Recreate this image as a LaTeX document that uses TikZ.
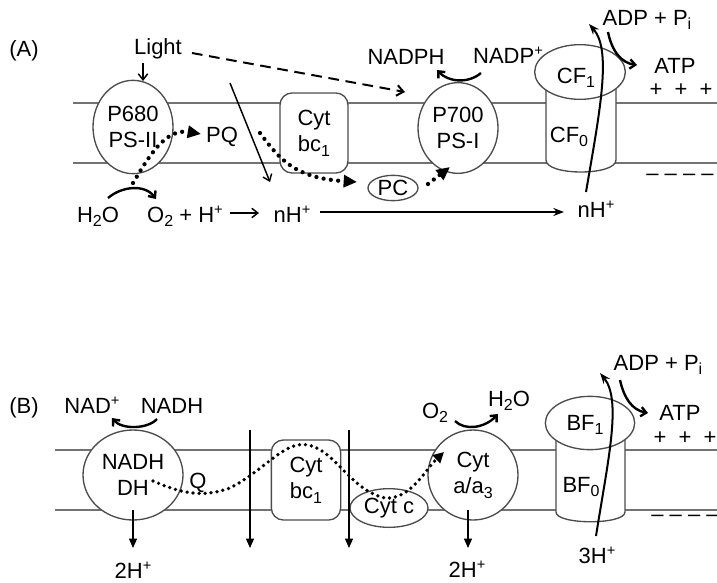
\documentclass[tikz,border=0pt]{standalone}
\usepackage{fontspec}
\setmainfont{Liberation Sans}
\usetikzlibrary{arrows.meta,shapes.geometric}
\newcommand\lo[1]{\raisebox{-3.6pt}{\fontsize{12}{12}\selectfont #1}}
\newcommand\hi[1]{\raisebox{5.5pt}{\fontsize{11}{11}\selectfont #1}}
\begin{document}
\begin{tikzpicture}[x=0.75pt,y=-0.75pt,
  txt/.style={inner sep=0pt, font=\fontsize{16.5}{19.5}\selectfont},
  lbl/.style={txt, anchor=base},
  memb/.style={draw=black!55, line width=1pt},
  shp/.style={draw=black!70, line width=1pt, fill=white, txt, align=center},
  circ/.style={shp, ellipse},
  boxn/.style={shp, rectangle, rounded corners=9pt},
  thinarrow/.style={line width=1.1pt, -{Straight Barb[length=4.5pt,width=7pt]}},
  dasharrow/.style={line width=1.5pt, dash pattern=on 8pt off 5pt, -{Straight Barb[length=5pt,width=8pt]}},
  longarrow/.style={line width=1.5pt, -{Stealth[length=8pt,width=6pt]}},
  boldarc/.style={line width=1.8pt, -{Straight Barb[length=4pt,width=7pt]}},
  uparrow/.style={line width=1.5pt, -{Stealth[length=8pt,width=6pt]}},
  downarrow/.style={line width=0.9pt, -{Triangle[length=7pt,width=6pt]}},
  dotsA/.style={line width=3.2pt, line cap=round, dash pattern=on 0pt off 5.5pt, -{Triangle[length=10pt,width=9pt]}},
  dotsB/.style={line width=2.8pt, line cap=round, dash pattern=on 0pt off 4.5pt, -{Triangle[length=8pt,width=8pt]}},
]
\useasboundingbox (0,0) rectangle (717,582);

% ===================== Panel A =====================
\draw[memb] (73,103) -- (717,103);
\draw[memb] (73,163) -- (717,163);
\draw[shp] (546,72) -- (546,160) .. controls (546,176) and (616,176) .. (616,160) -- (616,72);

\node[circ, minimum width=60pt, minimum height=70pt] (p680) at (133,127) {P680\\PS-II};
\node[boxn, minimum width=51pt, minimum height=60pt] (bcA) at (314,133) {Cyt\\bc\lo{1}};
\node[circ, minimum width=60pt, minimum height=68pt] (p700) at (458,128) {P700\\PS-I};
\node[circ, minimum width=37.5pt, minimum height=19pt] (pc) at (393,188) {PC};
\node[circ, minimum width=68pt, minimum height=41pt] (cf1) at (580,72) {};

\node[lbl] (labA) at (24,56) {(A)};
\node[lbl] (light) at (158,54) {Light};
\node[lbl] (pq) at (222,142) {PQ};
\node[lbl] (h2oA) at (98,222) {H\lo{2}O};
\node[lbl] (o2h) at (185,222) {O\lo{2} + H\hi{+}};
\node[lbl] (nh1) at (292,222) {nH\hi{+}};
\node[lbl] (nh2) at (596,217) {nH\hi{+}};
\node[lbl] (nadph) at (406,64) {NADPH};
\node[lbl] (nadp) at (508,63) {NADP\hi{+}};
\node[lbl] (cf1t) at (576,83) {CF\lo{1}};
\node[lbl] (cf0t) at (569,142) {CF\lo{0}};
\node[lbl] (adpA) at (647,25) {ADP + P\lo{i}};
\node[lbl] (atpA) at (675,73) {ATP};
\node[txt] (plusA) at (681,90) {+~~+~~+};
\node[txt] (minusA) at (680,177) {-- -- -- --};

\coordinate (lt1) at (143,63);
\coordinate (lt2) at (143,81);
\draw[thinarrow] (lt1) -- (lt2);
\coordinate (ds1) at (192,53);
\coordinate (ds2) at (405,92);
\draw[dasharrow] (ds1) -- (ds2);
\coordinate (sl1) at (230,83);
\coordinate (sl2) at (270,182);
\draw[thinarrow] (sl1) -- (sl2);

\coordinate (d1s) at (133,183);
\coordinate (d1e) at (201,134);
\draw[dotsA] (d1s) .. controls (148,158) and (165,128) .. (d1e);
\coordinate (d2s) at (260,133);
\coordinate (d2e) at (357,182);
\draw[dotsA] (d2s) .. controls (280,160) and (295,178) .. (d2e);
\coordinate (d3s) at (428,184);
\coordinate (d3e) at (450,167);
\draw[dotsA] (d3s) -- (d3e);

\coordinate (w1) at (108,198);
\coordinate (w2) at (156,199);
\draw[boldarc] (w1) .. controls (122,186) and (145,184) .. (w2);
\coordinate (o1) at (230,213);
\coordinate (o2) at (259,213);
\draw[thinarrow] (o1) -- (o2);
\coordinate (lg1) at (320,212);
\coordinate (lg2) at (564,212);
\draw[longarrow] (lg1) -- (lg2);

\coordinate (np1) at (481,73);
\coordinate (np2) at (437,70);
\draw[boldarc] (np1) .. controls (468,84) and (448,82) .. (np2);
\coordinate (up1) at (586,192);
\coordinate (up2) at (589,24);
\draw[uparrow] (up1) .. controls (600,110) and (612,50) .. (up2);
\coordinate (at1) at (608,32);
\coordinate (at2) at (637,65);
\draw[boldarc] (at1) .. controls (612,52) and (622,63) .. (at2);

% ===================== Panel B =====================
\draw[memb] (55,450) -- (717,450);
\draw[memb] (55,510) -- (717,510);
\draw[shp] (556,423) -- (556,512) .. controls (556,525) and (625,525) .. (625,512) -- (625,423);

\node[circ, minimum width=75pt, minimum height=67.5pt] (nadhdh) at (133,475) {NADH\\DH};
\node[boxn, minimum width=52pt, minimum height=60pt] (bcB) at (306,480) {Cyt\\bc\lo{1}};
\node[circ, minimum width=58.5pt, minimum height=29pt] (cytc) at (389,508) {Cyt c};
\node[circ, minimum width=67.5pt, minimum height=67.5pt] (cytaa) at (473,475) {Cyt\\a/a\lo{3}};
\node[circ, minimum width=67pt, minimum height=40pt] (bf1) at (590,423) {};

\node[lbl] (labB) at (24,413) {(B)};
\node[lbl] (nadp2) at (92,413) {NAD\hi{+}};
\node[lbl] (nadh) at (172,413) {NADH};
\node[lbl] (q) at (198,488) {Q};
\node[lbl] (o2B) at (435,418) {O\lo{2}};
\node[lbl] (h2oB) at (509,406) {H\lo{2}O};
\node[lbl] (bf1t) at (585,430) {BF\lo{1}};
\node[lbl] (bf0t) at (581,492) {BF\lo{0}};
\node[lbl] (adpB) at (658,370) {ADP + P\lo{i}};
\node[lbl] (atpB) at (680,420) {ATP};
\node[txt] (plusB) at (685,438) {+~~+~~+};
\node[txt] (minusB) at (685,518) {-- -- -- --};
\node[lbl] (hl) at (133,578) {2H\hi{+}};
\node[lbl] (hr) at (467,577) {2H\hi{+}};
\node[lbl] (h3) at (597,563) {3H\hi{+}};

\coordinate (qs) at (153,481);
\coordinate (qe) at (444,452);
\draw[dotsB] (qs) .. controls (185,495) and (205,497) .. (230,488)
  .. controls (265,470) and (285,440) .. (308,445)
  .. controls (335,450) and (350,490) .. (385,498)
  .. controls (410,500) and (425,470) .. (qe);

\coordinate (dl) at (133,548);
\draw[downarrow] (133,510) -- (dl);
\coordinate (v1a) at (250,430);
\coordinate (v1b) at (250,548);
\draw[downarrow] (v1a) -- (v1b);
\coordinate (v2a) at (349,430);
\coordinate (v2b) at (349,548);
\draw[downarrow] (v2a) -- (v2b);
\coordinate (drs) at (468,510);
\coordinate (dr) at (468,548);
\draw[downarrow] (drs) -- (dr);

\coordinate (na1) at (157,419);
\coordinate (na2) at (112,418);
\draw[boldarc] (na1) .. controls (148,429) and (122,430) .. (na2);
\coordinate (ox1) at (455,421);
\coordinate (ox2) at (498,414);
\draw[boldarc] (ox1) .. controls (465,431) and (485,428) .. (ox2);
\coordinate (u31) at (596,536);
\coordinate (u32) at (600,373);
\draw[uparrow] (u31) .. controls (608,460) and (622,400) .. (u32);
\coordinate (ab1) at (620,380);
\coordinate (ab2) at (648,413);
\draw[boldarc] (ab1) .. controls (624,398) and (632,410) .. (ab2);
\end{tikzpicture}
\end{document}
